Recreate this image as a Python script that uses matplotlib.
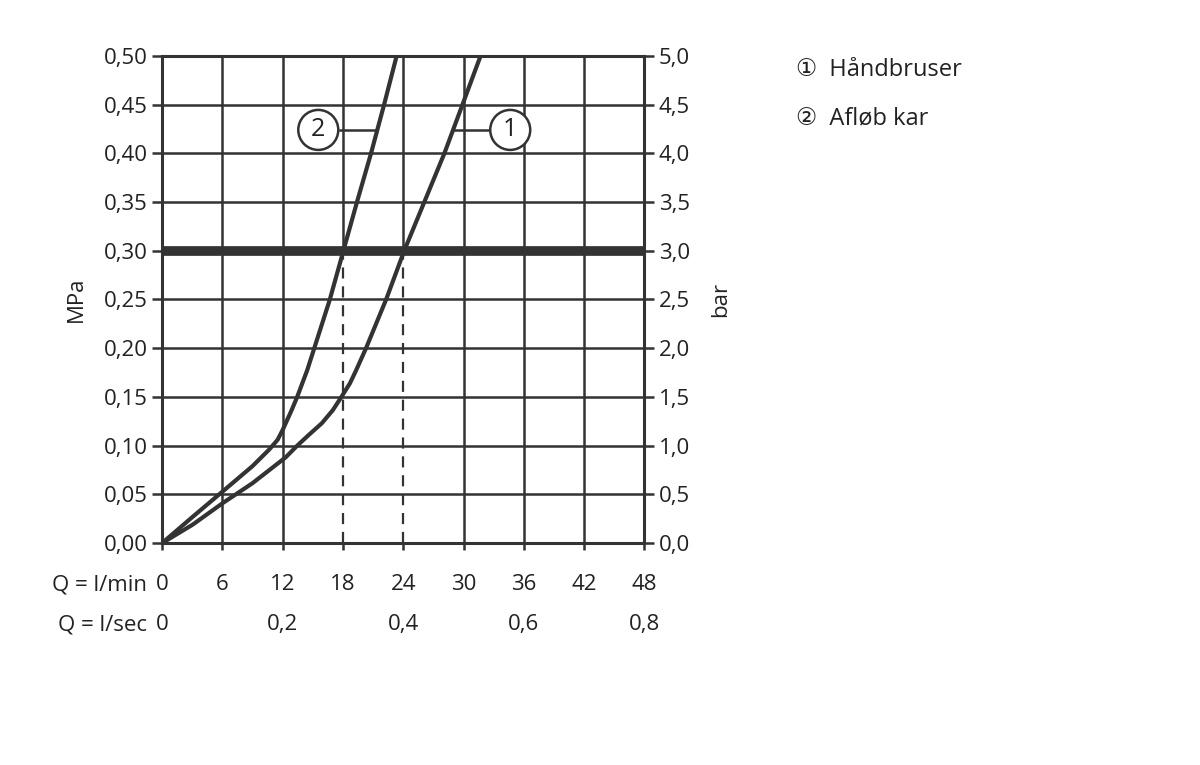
import numpy as np
import matplotlib.pyplot as plt
from matplotlib.transforms import blended_transform_factory

plt.rcParams['font.family'] = ['Open Sans', 'DejaVu Sans']

# flow (l/min) vs pressure (MPa)
q1 = [0, 3.05, 6.03, 9.0, 12.3, 13.45, 14.6, 15.9, 17.0, 17.85, 18.7, 19.3, 20.3, 22.3, 24.1, 26.1, 28.1, 29.9, 31.7]
p1 = [0, 0.019, 0.041, 0.0615, 0.088, 0.10, 0.111, 0.123, 0.1365, 0.15, 0.164, 0.177, 0.20, 0.25, 0.30, 0.35, 0.40, 0.45, 0.50]
q2 = [0, 3.05, 6.03, 9.0, 10.66, 11.5, 12.0, 12.9, 13.45, 14.45, 15.15, 16.7, 18.05, 19.4, 20.8, 22.1, 23.35]
p2 = [0, 0.027, 0.053, 0.079, 0.096, 0.106, 0.116, 0.1365, 0.15, 0.1775, 0.20, 0.25, 0.30, 0.35, 0.40, 0.45, 0.50]

p_ref = 0.30
q_ref = [18, 24]
lmin_ticks = [0, 6, 12, 18, 24, 30, 36, 42, 48]
lsec_ticks = [0, 12, 24, 36, 48]
lsec_labels = ['0', '0,2', '0,4', '0,6', '0,8']
mpa_ticks = np.round(np.arange(0, 0.501, 0.05), 2)
legend = ['\u2460  Håndbruser', '\u2461  Afløb kar']

col = '#333333'
txt = '#222222'
fig = plt.figure(figsize=(12, 7.65), dpi=100)
ax = fig.add_axes([0.135, 0.29, 0.402, 0.637])
ax.set_xlim(0, 48)
ax.set_ylim(0, 0.5)
ax.set_xticks(lmin_ticks)
ax.set_yticks(mpa_ticks)
ax.grid(True, axis='y', color=col, lw=1.8)
for s in ax.spines.values():
    s.set_color(col)
    s.set_linewidth(2.2)
ax.tick_params(axis='both', colors=col, width=1.8, length=7, labelsize=16, labelcolor=txt)
ax.tick_params(axis='x', labelbottom=False, length=5)
ax.set_yticklabels([f'{v:.2f}'.replace('.', ',') for v in mpa_ticks])
ax.set_ylabel('MPa', fontsize=16, color=txt, labelpad=12)

# vertical grid; at the reference flows only above the 0.3 line
for q in lmin_ticks[1:-1]:
    lo = p_ref if q in q_ref else 0
    ax.plot([q, q], [lo, 0.5], color=col, lw=1.8, zorder=1)
for q in q_ref:
    ax.plot([q, q], [0, p_ref], color=col, lw=1.6, ls=(0, (5, 3.5)), zorder=1)

ax2 = ax.twinx()
ax2.set_ylim(0, 5)
ax2.set_yticks(mpa_ticks * 10)
ax2.set_yticklabels([f'{v * 10:.1f}'.replace('.', ',') for v in mpa_ticks])
ax2.tick_params(axis='y', colors=col, width=1.8, length=7, labelsize=16, labelcolor=txt)
ax2.set_ylabel('bar', fontsize=16, color=txt, labelpad=14)
for s in ax2.spines.values():
    s.set_visible(False)

# curves
ax.plot(q1, p1, color=col, lw=3, solid_capstyle='round', solid_joinstyle='round', zorder=4)
ax.plot(q2, p2, color=col, lw=3, solid_capstyle='round', solid_joinstyle='round', zorder=4)
ax.axhline(p_ref, color=col, lw=7, zorder=5)

# circled curve labels with leader lines
ax.plot([17.7, 21.3], [0.424, 0.424], color=col, lw=1.8, zorder=4)
ax.plot([29.1, 32.4], [0.424, 0.424], color=col, lw=1.8, zorder=4)
for x, t in [(15.55, '2'), (34.65, '1')]:
    ax.text(x, 0.424, t, ha='center', va='center', fontsize=18, color=txt, zorder=6,
            bbox=dict(boxstyle='circle,pad=0.3', fc='white', ec=col, lw=1.8))

# bottom scales
tr = blended_transform_factory(ax.transData, ax.transAxes)
for q in lmin_ticks:
    ax.text(q, -0.085, str(q), transform=tr, ha='center', va='center', fontsize=16, color=txt)
for q, t in zip(lsec_ticks, lsec_labels):
    ax.text(q, -0.167, t, transform=tr, ha='center', va='center', fontsize=16, color=txt)
ax.text(-1.5, -0.085, 'Q = l/min', transform=tr, ha='right', va='center', fontsize=16, color=txt)
ax.text(-1.5, -0.167, 'Q = l/sec', transform=tr, ha='right', va='center', fontsize=16, color=txt)

# legend text
fig.text(0.663, 0.908, legend[0], fontsize=17, color=txt, va='center')
fig.text(0.663, 0.845, legend[1], fontsize=17, color=txt, va='center')

fig.savefig('out.png', dpi=100)
